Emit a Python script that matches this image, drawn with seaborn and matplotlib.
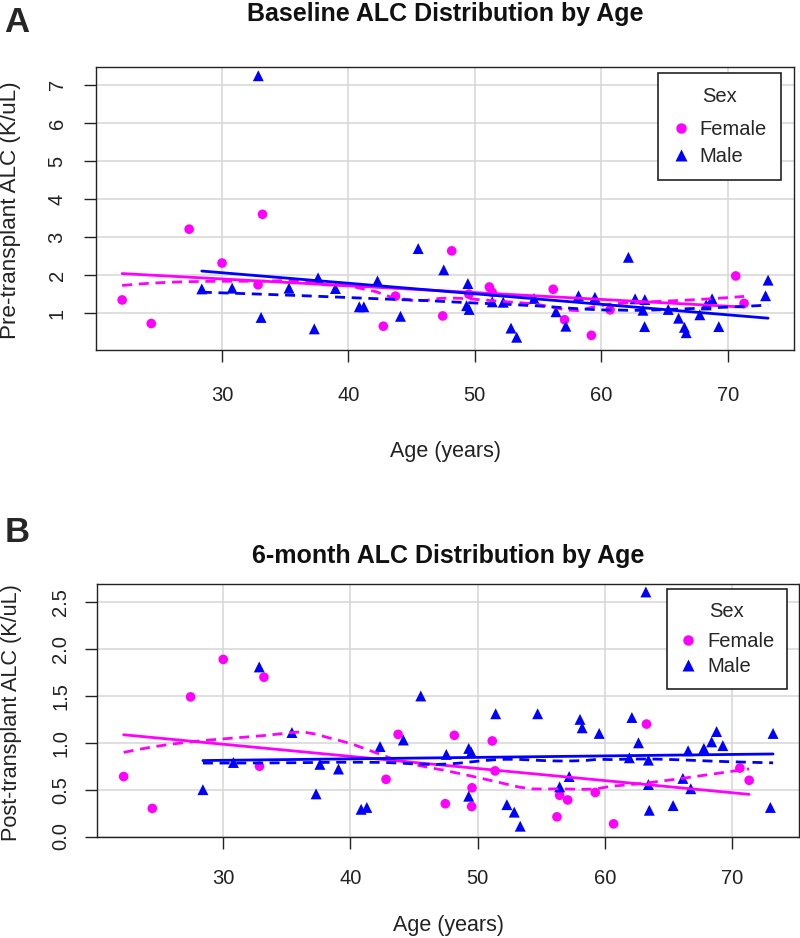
import numpy as np
import pandas as pd
import matplotlib
matplotlib.use("Agg")
import matplotlib.pyplot as plt
from matplotlib.lines import Line2D
import seaborn as sns

# ---------------- data ----------------
# Panel A: baseline (pre-transplant) ALC
a_female_age = [22.1, 24.4, 27.4, 30.0, 32.85, 33.2, 42.76, 43.72, 47.46, 48.17, 49.53,
                51.15, 51.37, 56.2, 57.1, 59.22, 60.7, 70.64, 71.3]
a_female_alc = [1.35, 0.73, 3.21, 2.32, 1.75, 3.60, 0.66, 1.45, 0.93, 2.64, 1.50,
                1.69, 1.55, 1.63, 0.83, 0.42, 1.09, 1.98, 1.26]
a_male_age = [28.4, 30.8, 32.87, 33.09, 35.3, 37.3, 37.6, 38.97, 40.86, 41.22, 42.3,
              44.12, 45.52, 47.54, 49.45, 49.35, 49.55, 51.38, 52.25, 52.86, 53.31,
              54.68, 56.42, 57.2, 58.2, 59.5, 62.15, 62.68, 63.3, 63.45, 63.43, 65.3,
              66.12, 66.58, 66.72, 67.8, 68.3, 68.77, 69.3, 73.0, 73.2]
a_male_alc = [1.64, 1.66, 7.24, 0.89, 1.66, 0.59, 1.93, 1.65, 1.17, 1.17, 1.85,
              0.92, 2.70, 2.14, 1.78, 1.20, 1.10, 1.30, 1.29, 0.61, 0.37,
              1.39, 1.04, 0.66, 1.46, 1.42, 2.47, 1.38, 1.08, 1.36, 0.65, 1.10,
              0.87, 0.63, 0.49, 0.96, 1.22, 1.38, 0.65, 1.46, 1.87]

# Panel B: 6-month (post-transplant) ALC
b_female_age = [22.17, 24.42, 27.43, 30.0, 32.85, 33.2, 42.8, 43.75, 47.46, 48.17, 49.53,
                49.56, 51.15, 51.37, 56.24, 56.45, 57.08, 59.25, 60.69, 63.28, 70.62, 71.35]
b_female_alc = [0.64, 0.30, 1.49, 1.89, 0.75, 1.70, 0.61, 1.09, 0.35, 1.08, 0.32,
                0.52, 1.02, 0.70, 0.21, 0.44, 0.39, 0.47, 0.135, 1.20, 0.73, 0.60]
b_male_age = [28.4, 30.8, 32.83, 35.4, 37.3, 37.6, 39.06, 40.84, 41.29, 42.33, 44.16,
              45.53, 47.54, 49.3, 49.5, 49.3, 51.42, 52.3, 52.88, 53.35, 54.72, 56.45,
              57.2, 58.05, 58.22, 59.56, 61.93, 62.13, 62.65, 63.23, 63.43, 63.43, 63.5,
              65.37, 66.14, 66.55, 66.76, 67.79, 68.4, 68.79, 69.28, 73.02, 73.23]
b_male_alc = [0.50, 0.79, 1.81, 1.11, 0.455, 0.77, 0.72, 0.29, 0.31, 0.96, 1.03,
              1.50, 0.876, 0.94, 0.90, 0.43, 1.31, 0.34, 0.26, 0.11, 1.31, 0.53,
              0.64, 1.25, 1.16, 1.10, 0.84, 1.27, 1.00, 2.61, 0.815, 0.555, 0.28,
              0.33, 0.62, 0.915, 0.51, 0.94, 1.01, 1.12, 0.97, 0.31, 1.10]

x_ticks = [30, 40, 50, 60, 70]
a_y_ticks = [1, 2, 3, 4, 5, 6, 7]
b_y_ticks = [0.0, 0.5, 1.0, 1.5, 2.0, 2.5]
b_y_ticklabels = ["0.0", "0.5", "1.0", "1.5", "2.0", "2.5"]

titles = ["Baseline ALC Distribution by Age", "6-month ALC Distribution by Age"]
ylabels = ["Pre-transplant ALC (K/uL)", "Post-transplant ALC (K/uL)"]
xlabel = "Age (years)"
sexes = ["Female", "Male"]
colors = {"Female": "#FF00FF", "Male": "#0000FF"}
markers = {"Female": "o", "Male": "^"}
msize = {"Female": 48, "Male": 62}


def make_df(fa, fv, ma, mv):
    return pd.DataFrame({
        "age": list(fa) + list(ma),
        "alc": list(fv) + list(mv),
        "Sex": ["Female"] * len(fa) + ["Male"] * len(ma),
    })


df_a = make_df(a_female_age, a_female_alc, a_male_age, a_male_alc)
df_b = make_df(b_female_age, b_female_alc, b_male_age, b_male_alc)


def loess_fit(x, y, xe, span=2 / 3, iters=4):
    """Local linear loess with symmetric (bisquare) robustness iterations."""
    x = np.asarray(x, float)
    y = np.asarray(y, float)
    n = len(x)
    q = max(int(np.floor(n * span)), 2)
    rw = np.ones(n)

    def fit_at(x0, w_rob):
        d = np.abs(x - x0)
        h = np.sort(d)[q - 1]
        if h <= 0:
            h = 1e-9
        u = np.clip(d / h, 0, 1)
        w = (1 - u ** 3) ** 3 * w_rob
        W = w.sum()
        xm = (w * x).sum() / W
        ym = (w * y).sum() / W
        sxx = (w * (x - xm) ** 2).sum()
        b = (w * (x - xm) * (y - ym)).sum() / sxx if sxx > 0 else 0.0
        return ym + b * (x0 - xm)

    for it in range(iters):
        fitted = np.array([fit_at(xi, rw) for xi in x])
        if it == iters - 1:
            break
        res = y - fitted
        s = np.median(np.abs(res))
        if s <= 0:
            break
        u = res / (6 * s)
        rw = np.where(np.abs(u) < 1, (1 - u ** 2) ** 2, 0.0)
    return np.array([fit_at(x0, rw) for x0 in xe])


sns.set_style("white")
plt.rcParams["font.family"] = ["Liberation Sans", "DejaVu Sans"]

W, H = 800, 938
fig = plt.figure(figsize=(W / 100, H / 100), dpi=100)


def fx(px):
    return px / W


def fy(py):
    return 1 - py / H


# axes rectangles in pixels: left, top, right, bottom
rects = [(96, 67, 794, 350), (96.7, 584, 799, 836.5)]
ylims = [(0.035, 7.47), (0.0, 2.695)]
xlims = [(20.03, 75.25), (20.05, 75.27)]
dfs = [df_a, df_b]
xt_pads = [17, 14.5]
yt_pads = [12.5, 10.5]
legend_anchor = [((781 - 96) / 698, (350 - 73) / 283),
                 ((786.7 - 96.7) / 702.3, (836.5 - 589.3) / 252.5)]
legend_title_sep = [9.7, 8.3]
legend_labelspacing = [0.4, 0.3]
legend_borderpad = [0.7, 0.62]

dash = (0, (3.6, 2.4))

for i in range(2):
    l, t, r, b = rects[i]
    ax = fig.add_axes([fx(l), fy(b), fx(r - l), (b - t) / H])
    df = dfs[i]
    ax.set_xlim(*xlims[i])
    ax.set_ylim(*ylims[i])
    ax.set_xticks(x_ticks)
    if i == 0:
        ax.set_yticks(a_y_ticks)
        ax.set_yticklabels([str(v) for v in a_y_ticks])
    else:
        ax.set_yticks(b_y_ticks)
        ax.set_yticklabels(b_y_ticklabels)
    ax.grid(True, color="#d6d6d6", linewidth=1.1, zorder=0)
    ax.set_axisbelow(True)

    for sex in sexes:
        sub = df[df["Sex"] == sex]
        sns.scatterplot(data=sub, x="age", y="alc", color=colors[sex], marker=markers[sex],
                        s=msize[sex], edgecolor="none", linewidth=0, ax=ax, legend=False,
                        zorder=3)
    for sex in sexes:
        sub = df[df["Sex"] == sex].sort_values("age")
        sns.regplot(data=sub, x="age", y="alc", scatter=False, ci=None, truncate=True,
                    color=colors[sex], line_kws=dict(linewidth=2.0, zorder=4), ax=ax)
        xe = np.linspace(sub["age"].min(), sub["age"].max(), 50)
        ye = loess_fit(sub["age"].values, sub["alc"].values, xe)
        ax.plot(xe, ye, color=colors[sex], linewidth=2.0, linestyle=dash, zorder=4)

    ax.set_xlabel("")
    ax.set_ylabel("")
    for sp in ax.spines.values():
        sp.set_color("#222222")
        sp.set_linewidth(1.0)
    ax.tick_params(axis="both", which="major", direction="out", length=8.6, width=1.0,
                   color="#222222", labelsize=14.5, labelcolor="#222222")
    ax.tick_params(axis="x", pad=xt_pads[i], bottom=True)
    ax.tick_params(axis="y", pad=yt_pads[i], left=True)
    for lab in ax.get_yticklabels():
        lab.set_rotation(90)
        lab.set_va("center")

    handles = [Line2D([0], [0], marker=markers[s], color="none", markerfacecolor=colors[s],
                      markeredgecolor="none", markersize=7.5 if s == "Female" else 8.5)
               for s in sexes]
    leg = ax.legend(handles, sexes, title="Sex", loc="upper right",
                    bbox_to_anchor=legend_anchor[i], frameon=True, fancybox=False,
                    edgecolor="#222222", framealpha=1, fontsize=14.5, title_fontsize=14.5,
                    handlelength=0.8, handletextpad=0.55, borderpad=legend_borderpad[i],
                    labelspacing=legend_labelspacing[i], borderaxespad=0)
    try:
        leg._legend_box.sep = legend_title_sep[i]
    except Exception:
        pass
    leg.get_frame().set_linewidth(1.2)
    leg.set_zorder(10)

# texts
fig.text(fx(445), fy(13.5), titles[0], ha="center", va="center", fontsize=18,
         fontweight="bold", color="#111111")
fig.text(fx(448), fy(556), titles[1], ha="center", va="center", fontsize=18,
         fontweight="bold", color="#111111")
fig.text(fx(445), fy(452), xlabel, ha="center", va="center", fontsize=15.5, color="#222222")
fig.text(fx(448), fy(925), xlabel, ha="center", va="center", fontsize=15.5, color="#222222")
fig.text(fx(11), fy(210), ylabels[0], ha="center", va="center", rotation=90,
         fontsize=16.2, color="#222222")
fig.text(fx(12), fy(713), ylabels[1], ha="center", va="center", rotation=90,
         fontsize=15.6, color="#222222")
fig.text(fx(4), fy(32), "A", ha="left", va="baseline", fontsize=25, fontweight="bold")
fig.text(fx(5), fy(542), "B", ha="left", va="baseline", fontsize=25, fontweight="bold")

fig.savefig("out.png", dpi=100)
